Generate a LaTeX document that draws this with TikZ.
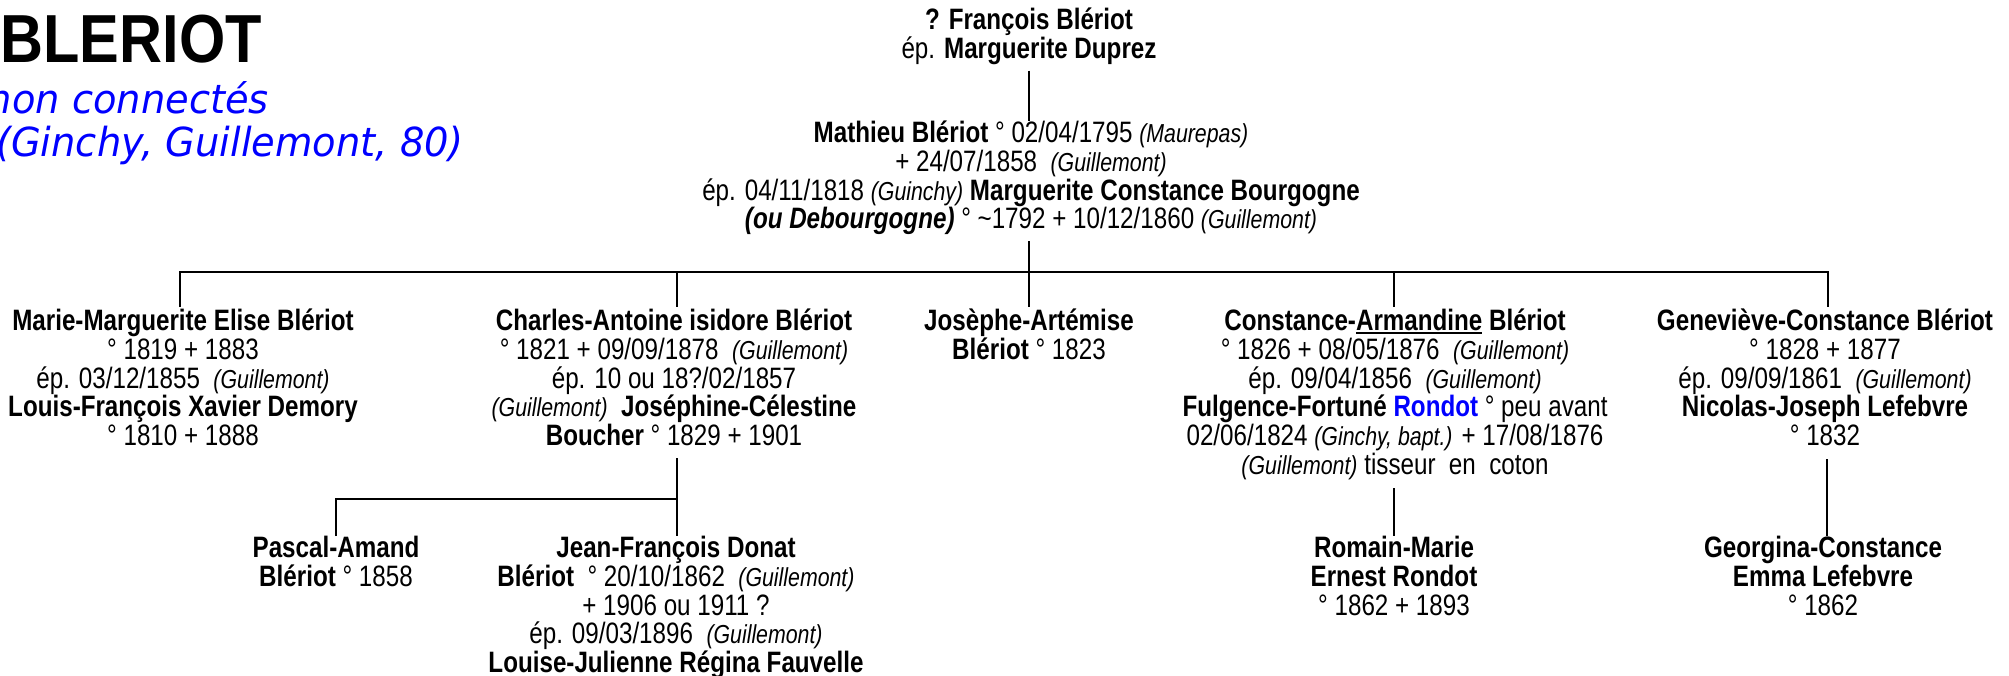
\documentclass[tikz,border=0pt]{standalone}
\usepackage{fontspec}
\setmainfont{Liberation Sans}[FakeStretch=0.82]
\newfontfamily\titlefont{Liberation Sans}[FakeStretch=0.875]
\newfontfamily\subfont{DejaVu Sans}[FakeStretch=0.96]
\newcommand{\pl}[1]{{\fontsize{26}{28.8}\selectfont\itshape #1}}
\newcommand{\nm}[1]{\textbf{#1}}
\newcommand{\ulin}[1]{\setbox0\hbox{#1}\rlap{\rule[-3.5pt]{\wd0}{2pt}}\box0\relax}
\newcommand{\blk}[1]{\vtop{\baselineskip=28.8pt\lineskiplimit=-100pt\lineskip=0pt\let\\\cr\halign{\hfil##\hfil\cr#1\crcr}}}
\tikzset{
  person/.style={inner sep=0pt, anchor=base, font=\fontsize{29.5}{28.8}\selectfont},
  link/.style={line width=2.2pt},
  titlebox/.style={anchor=base east, inner sep=0pt, font=\titlefont\fontsize{68}{68}\selectfont\bfseries},
  subbox/.style={anchor=base east, inner sep=0pt, text=blue, font=\subfont\itshape\fontsize{40}{44}\selectfont}
}
\begin{document}
\begin{tikzpicture}[x=1pt,y=-1pt]
\useasboundingbox (0,0) rectangle (2009,675);
\node[titlebox] (title) at (262,62) {BLERIOT};
\node[subbox] (sub1) at (269,113) {non connectés};
\node[subbox] (sub2) at (464,156) {(Ginchy, Guillemont, 80)};

\node[person] (top) at (1029,29.5) {\blk{\nm{? François Blériot}\\ ép. \nm{Marguerite Duprez}}};
\node[person] (mat) at (1031,142.5) {\blk{\nm{Mathieu Blériot} ° 02/04/1795 \pl{(Maurepas)}\\
+ 24/07/1858~ \pl{(Guillemont)}\\
ép. 04/11/1818 \pl{(Guinchy)} \nm{Marguerite Constance Bourgogne}\\
\nm{\itshape (ou Debourgogne)} ° \textasciitilde1792 + 10/12/1860 \pl{(Guillemont)}}};

\node[person] (marie) at (183,330.5) {\blk{\nm{Marie-Marguerite Elise Blériot}\\
° 1819 + 1883\\
ép. 03/12/1855~ \pl{(Guillemont)}\\
\nm{Louis-François Xavier Demory}\\
° 1810 + 1888}};
\node[person] (charles) at (674,330.5) {\blk{\nm{Charles-Antoine isidore Blériot}\\
° 1821 + 09/09/1878~ \pl{(Guillemont)}\\
ép. 10 ou 18?/02/1857\\
\pl{(Guillemont)}~ \nm{Joséphine-Célestine}\\
\nm{Boucher} ° 1829 + 1901}};
\node[person] (jose) at (1029,330.5) {\blk{\nm{Josèphe-Artémise}\\
\nm{Blériot} ° 1823}};
\node[person] (const) at (1395,330.5) {\blk{\nm{Constance-\ulin{Armandine} Blériot}\\
° 1826 + 08/05/1876~ \pl{(Guillemont)}\\
ép. 09/04/1856~ \pl{(Guillemont)}\\
\nm{Fulgence-Fortuné \textcolor{blue}{Rondot}} ° peu avant\\
02/06/1824 \pl{(Ginchy, bapt.)} + 17/08/1876\\
\pl{(Guillemont)} tisseur~ en~ coton}};
\node[person] (genev) at (1825,330.5) {\blk{\nm{Geneviève-Constance Blériot}\\
° 1828 + 1877\\
ép. 09/09/1861~ \pl{(Guillemont)}\\
\nm{Nicolas-Joseph Lefebvre}\\
° 1832}};

\node[person] (pascal) at (336,557.5) {\blk{\nm{Pascal-Amand}\\ \nm{Blériot} ° 1858}};
\node[person] (jean) at (676,557.5) {\blk{\nm{Jean-François Donat}\\
\nm{Blériot}~ ° 20/10/1862~ \pl{(Guillemont)}\\
+ 1906 ou 1911 ?\\
ép. 09/03/1896~ \pl{(Guillemont)}\\
\nm{Louise-Julienne Régina Fauvelle}}};
\node[person] (romain) at (1394,557.5) {\blk{\nm{Romain-Marie}\\ \nm{Ernest Rondot}\\ ° 1862 + 1893}};
\node[person] (georg) at (1823,557.5) {\blk{\nm{Georgina-Constance}\\ \nm{Emma Lefebvre}\\ ° 1862}};

% junction points
\coordinate (topbot) at (1029,70.5);
\coordinate (matbot) at (1029,241);
\coordinate (bar) at (1029,271.6);
\coordinate (cbot) at (677,458);
\coordinate (cj) at (677,499);
\coordinate (rbot) at (1394,488);
\coordinate (gbot) at (1827,459);
\coordinate (dropend) at (0,307);
\coordinate (gdropend) at (0,536);

\draw[link] (topbot) -- (topbot |- mat.north);
\draw[link] (matbot) -- (bar);
\draw[link] (180,0 |- dropend) -- (180,0 |- bar) -- (1828,0 |- bar) -- (1828,0 |- dropend);
\draw[link] (677,0 |- bar) -- (677,0 |- dropend);
\draw[link] (bar) -- (jose.north |- dropend);
\draw[link] (1394,0 |- bar) -- (1394,0 |- dropend);
\draw[link] (cbot) -- (cbot |- gdropend);
\draw[link] (pascal.north |- gdropend) -- (pascal.north |- cj) -- (cj);
\draw[link] (rbot) -- (rbot |- gdropend);
\draw[link] (gbot) -- (gbot |- gdropend);
\end{tikzpicture}
\end{document}
